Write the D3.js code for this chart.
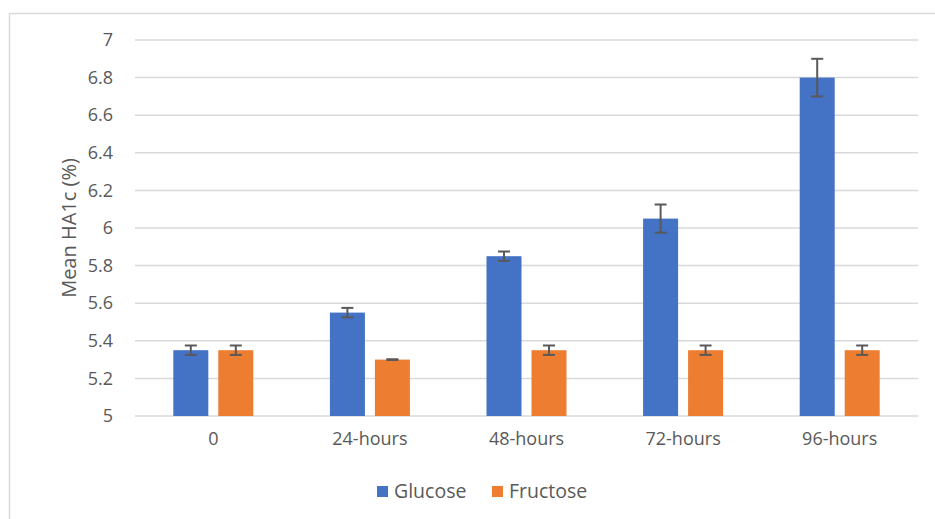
<!DOCTYPE html>
<html>
<head>
<meta charset="utf-8">
<script src="https://cdn.jsdelivr.net/npm/d3@7"></script>
<style>
  body { margin: 0; background: #fff; }
  svg { display: block; font-family: "Open Sans", "Noto Sans", sans-serif; }
</style>
</head>
<body>
<div id="chart"></div>
<script>
// data
const categories = ["0", "24-hours", "48-hours", "72-hours", "96-hours"];
const seriesNames = ["Glucose", "Fructose"];
const glucose = [5.35, 5.55, 5.85, 6.05, 6.8];
const fructose = [5.35, 5.3, 5.35, 5.35, 5.35];
const glucoseErr = [0.025, 0.025, 0.025, 0.075, 0.1];
const fructoseErr = [0.025, 0.002, 0.025, 0.025, 0.025];
const yTicks = [5, 5.2, 5.4, 5.6, 5.8, 6, 6.2, 6.4, 6.6, 6.8, 7];

const width = 935, height = 519;
const margin = { top: 40, right: 17, bottom: 103, left: 135 };
const innerWidth = width - margin.left - margin.right;
const innerHeight = height - margin.top - margin.bottom;
const colors = ["#4472c4", "#ed7d31"];

const svg = d3.select("#chart")
    .append("svg")
    .attr("width", width)
    .attr("height", height);

// chart frame (runs off the right and bottom edges like the screenshot)
svg.append("rect")
    .attr("x", 9.5)
    .attr("y", 13.5)
    .attr("width", 960)
    .attr("height", 540)
    .attr("fill", "none")
    .attr("stroke", "#d9d9d9")
    .attr("stroke-width", 1.5);

const inner = svg.append("g")
    .attr("transform", `translate(${margin.left}, ${margin.top})`);

const xScale = d3.scaleBand()
    .domain(categories)
    .range([0, innerWidth]);

const xSub = d3.scaleBand()
    .domain(seriesNames)
    .range([xScale.bandwidth() / 2 - 40, xScale.bandwidth() / 2 + 40])
    .paddingInner(0.222);

const yScale = d3.scaleLinear()
    .domain([5, 7])
    .range([innerHeight, 0]);

// gridlines
inner.append("g")
    .selectAll("line")
    .data(yTicks)
    .enter()
    .append("line")
    .attr("x1", 0)
    .attr("x2", innerWidth)
    .attr("y1", d => yScale(d))
    .attr("y2", d => yScale(d))
    .attr("stroke", "#d9d9d9")
    .attr("stroke-width", 1.5);

// y axis labels
const yAxis = inner.append("g")
    .call(d3.axisLeft(yScale).tickValues(yTicks).tickSize(0).tickPadding(22).tickFormat(d => d3.format("~g")(d)));
yAxis.select(".domain").remove();
yAxis.selectAll("text")
    .style("font-family", "\"Open Sans\", sans-serif")
    .style("font-size", "18px")
    .attr("fill", "#595959");

// x axis labels
const xAxis = inner.append("g")
    .attr("transform", `translate(0, ${innerHeight})`)
    .call(d3.axisBottom(xScale).tickSize(0).tickPadding(16));
xAxis.select(".domain").remove();
xAxis.selectAll("text")
    .style("font-family", "\"Open Sans\", sans-serif")
    .style("font-size", "18px")
    .attr("fill", "#595959");

// bars
const rows = categories.map((c, i) => ({
    cat: c,
    values: [
        { name: "Glucose", value: glucose[i], err: glucoseErr[i] },
        { name: "Fructose", value: fructose[i], err: fructoseErr[i] }
    ]
}));

const group = inner.selectAll(".group")
    .data(rows)
    .enter()
    .append("g")
    .attr("class", "group")
    .attr("transform", d => `translate(${xScale(d.cat)}, 0)`);

group.selectAll("rect")
    .data(d => d.values)
    .enter()
    .append("rect")
    .attr("x", d => xSub(d.name))
    .attr("width", xSub.bandwidth())
    .attr("y", d => yScale(d.value))
    .attr("height", d => yScale(5) - yScale(d.value))
    .attr("fill", (d, i) => colors[i]);

// error bars
const errG = group.selectAll(".err")
    .data(d => d.values)
    .enter()
    .append("g")
    .attr("class", "err")
    .attr("transform", d => `translate(${xSub(d.name) + xSub.bandwidth() / 2}, 0)`);

errG.append("line")
    .attr("y1", d => yScale(d.value + d.err))
    .attr("y2", d => yScale(d.value - d.err))
    .attr("stroke", "#595959")
    .attr("stroke-width", 2);

errG.selectAll(".cap")
    .data(d => [d.value + d.err, d.value - d.err])
    .enter()
    .append("line")
    .attr("x1", -6)
    .attr("x2", 6)
    .attr("y1", d => yScale(d))
    .attr("y2", d => yScale(d))
    .attr("stroke", "#595959")
    .attr("stroke-width", 2);

// y axis title
inner.append("text")
    .text("Mean HA1c (%)")
    .attr("transform", `translate(-66, ${innerHeight / 2}) rotate(-90)`)
    .style("font-family", "\"Open Sans\", sans-serif")
    .style("font-size", "20px")
    .style("text-anchor", "middle")
    .attr("dy", "0.35em")
    .attr("fill", "#595959");

// legend
const legend = svg.append("g")
    .attr("transform", "translate(377, 486)");

const legendItem = legend.selectAll(".legend-item")
    .data(seriesNames)
    .enter()
    .append("g")
    .attr("class", "legend-item")
    .attr("transform", (d, i) => `translate(${i * 115}, 0)`);

legendItem.append("rect")
    .attr("width", 11)
    .attr("height", 11)
    .attr("fill", (d, i) => colors[i]);

legendItem.append("text")
    .attr("x", 17)
    .attr("y", 12)
    .style("font-family", "\"Open Sans\", sans-serif")
    .style("font-size", "19.5px")
    .attr("fill", "#595959")
    .text(d => d);
</script>
</body>
</html>
